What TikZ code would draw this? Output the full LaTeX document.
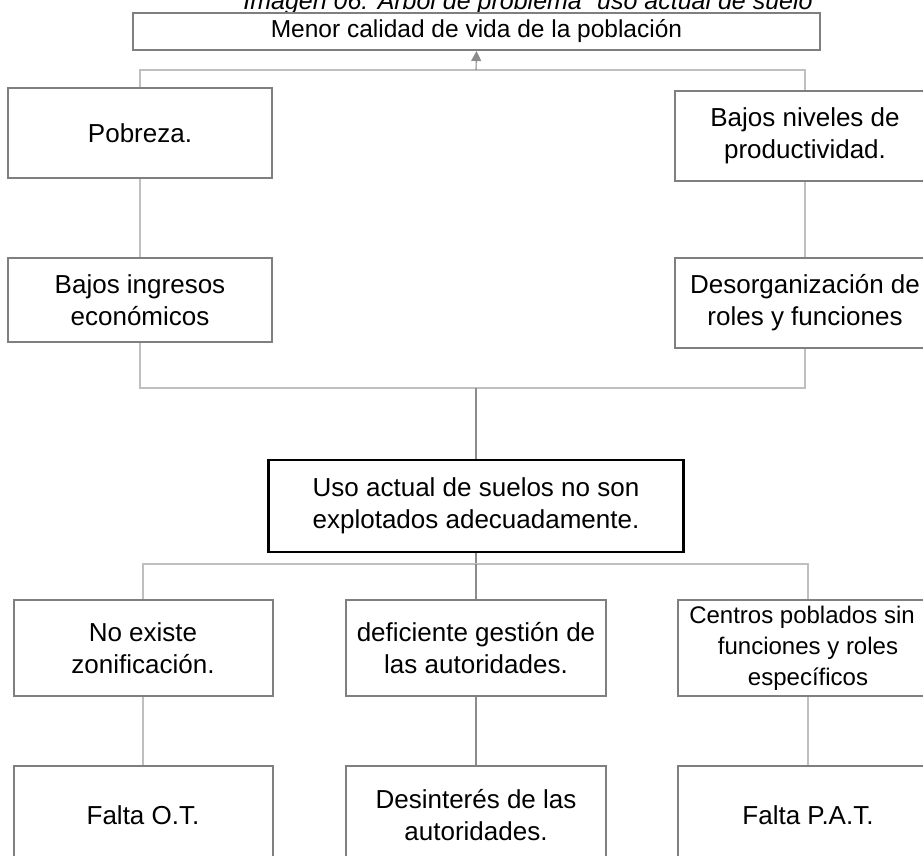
\documentclass[tikz,border=0pt]{standalone}
\usepackage{fontspec}
\setmainfont{Liberation Sans}
\usetikzlibrary{arrows.meta}
\definecolor{box-gray}{HTML}{7F7F7F}
\definecolor{link-gray}{HTML}{BFBFBF}
\definecolor{stem-gray}{HTML}{8C8C8C}

\begin{document}
\begin{tikzpicture}[x=1pt, y=-1pt,
        every node/.style={font=\fontsize{26}{32}\selectfont, align=center},
        prob/.style={draw=box-gray, line width=2pt, fill=white, inner sep=0pt},
        core/.style={draw=black, line width=2.6pt, fill=white, inner sep=0pt},
        link/.style={draw=link-gray, line width=1.4pt},
        stem/.style={draw=stem-gray, line width=1.1pt}]
      \useasboundingbox (0,0) rectangle (923,855);
      \clip (0,0) rectangle (923,855);
      \node[anchor=base, font=\fontsize{25}{30}\selectfont\itshape] (titulo) at (528,9)
        {Imagen 06: Árbol de problema” uso actual de suelo};
      % efectos
      \node[prob, minimum width=687, minimum height=37, font=\fontsize{24.5}{30}\selectfont]
        (menor) at (476.5,31.5) {Menor calidad de vida de la población};
      \node[prob, minimum width=264, minimum height=90] (pobreza) at (140,133) {Pobreza.};
      \node[prob, minimum width=260, minimum height=90] (niveles) at (805,136)
        {Bajos niveles de\\productividad.};
      \node[prob, minimum width=264, minimum height=84] (ingresos) at (140,300)
        {Bajos ingresos\\económicos};
      \node[prob, minimum width=260, minimum height=90] (desorg) at (805,303)
        {Desorganización de\\roles y funciones};
      % problema central
      \node[core, minimum width=415, minimum height=92] (central) at (476,506)
        {Uso actual de suelos no son\\explotados adecuadamente.};
      % causas
      \node[prob, minimum width=259, minimum height=96] (zonif) at (143,648)
        {No existe\\zonificación.};
      \node[prob, minimum width=260, minimum height=96] (gestion) at (476,648)
        {deficiente gestión de\\las autoridades.};
      \node[prob, minimum width=260, minimum height=96, font=\fontsize{24}{31}\selectfont]
        (centros) at (808,648) {\hspace*{-12pt}Centros poblados sin\\funciones y roles\\específicos};
      \node[prob, minimum width=259, minimum height=98] (faltaot) at (143,815) {Falta O.T.};
      \node[prob, minimum width=260, minimum height=98] (desint) at (476,815)
        {Desinterés de las\\autoridades.};
      \node[prob, minimum width=260, minimum height=98] (faltapat) at (808,815) {Falta P.A.T.};
      \coordinate (jtop) at (476,70);
      \coordinate (jmid) at (476,388);
      \coordinate (jlow) at (476,564);
      \draw[link] (pobreza.north) |- (jtop) -| (niveles.north);
      \draw[stem, -{Triangle[width=10pt, length=10pt]}, fill=stem-gray] (jtop) -- (menor.south);
      \draw[link] (pobreza) -- (ingresos);
      \draw[link] (niveles) -- (desorg);
      \draw[link] (ingresos.south) |- (jmid) -| (desorg.south);
      \draw[stem] (jmid) -- (central.north);
      \draw[stem] (central.south) -- (jlow);
      \draw[link] (zonif.north) |- (jlow) -| (centros.north);
      \draw[stem] (jlow) -- (gestion.north);
      \draw[link] (zonif) -- (faltaot);
      \draw[stem] (gestion) -- (desint);
      \draw[link] (centros) -- (faltapat);
    \end{tikzpicture}
\end{document}
